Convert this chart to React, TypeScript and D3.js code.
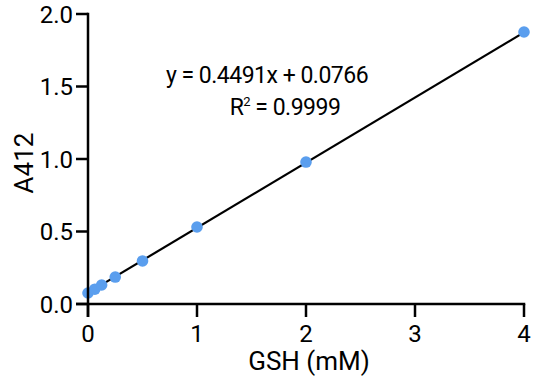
import React from "react";
import * as d3 from "d3";

const gsh = [0, 0.0625, 0.125, 0.25, 0.5, 1, 2, 4];
const a412 = [0.076, 0.102, 0.131, 0.186, 0.297, 0.531, 0.979, 1.876];
const xTicks = [0, 1, 2, 3, 4];
const yTicks = [0, 0.5, 1.0, 1.5, 2.0];
const slope = 0.4491;
const intercept = 0.0766;

export default function App() {
  const W = 543, H = 379;
  const x = d3.scaleLinear().domain([0, 4]).range([88, 524]);
  const y = d3.scaleLinear().domain([0, 2]).range([304, 14]);
  const font = "Roboto, sans-serif";
  const line = d3.line<number>().x((d) => x(d)).y((d) => y(slope * d + intercept));
  return (
    <svg width={W} height={H} style={{ position: "absolute", left: 0, top: 0 }}>
      <rect width={W} height={H} fill="#fff" />
      <path d={line([0, 4]) || ""} stroke="#000" strokeWidth={2.2} fill="none" />
      {gsh.map((g, i) => (
        <circle key={i} cx={x(g)} cy={y(a412[i])} r={5.8} fill="#5A9EEE" />
      ))}
      <line x1={x(0)} x2={x(0)} y1={y(2) - 1.25} y2={317} stroke="#000" strokeWidth={2.5} />
      <line x1={76} x2={x(4) + 1.25} y1={y(0)} y2={y(0)} stroke="#000" strokeWidth={2.5} />
      {yTicks.map((t) => (
        <g key={t}>
          <line x1={76} x2={x(0)} y1={y(t)} y2={y(t)} stroke="#000" strokeWidth={2.5} />
          <text x={73} y={y(t)} dy="0.36em" textAnchor="end" fontFamily={font} fontSize={24}>
            {d3.format(".1f")(t)}
          </text>
        </g>
      ))}
      {xTicks.map((t) => (
        <g key={t}>
          <line x1={x(t)} x2={x(t)} y1={y(0)} y2={317} stroke="#000" strokeWidth={2.5} />
          <text x={x(t)} y={342} textAnchor="middle" fontFamily={font} fontSize={24}>
            {t}
          </text>
        </g>
      ))}
      <text x={309} y={370} textAnchor="middle" fontFamily={font} fontSize={26}>GSH (mM)</text>
      <text transform={`translate(33,163) rotate(-90)`} textAnchor="middle" fontFamily={font} fontSize={26}>A412</text>
      <text x={267} y={83} textAnchor="middle" fontFamily={font} fontSize={23} letterSpacing={-0.5}>y = 0.4491x + 0.0766</text>
      <text x={285} y={115} textAnchor="middle" fontFamily={font} fontSize={23} letterSpacing={-0.5}>
        R<tspan dy={-9} fontSize={13}>2</tspan><tspan dy={9}> = 0.9999</tspan>
      </text>
    </svg>
  );
}
